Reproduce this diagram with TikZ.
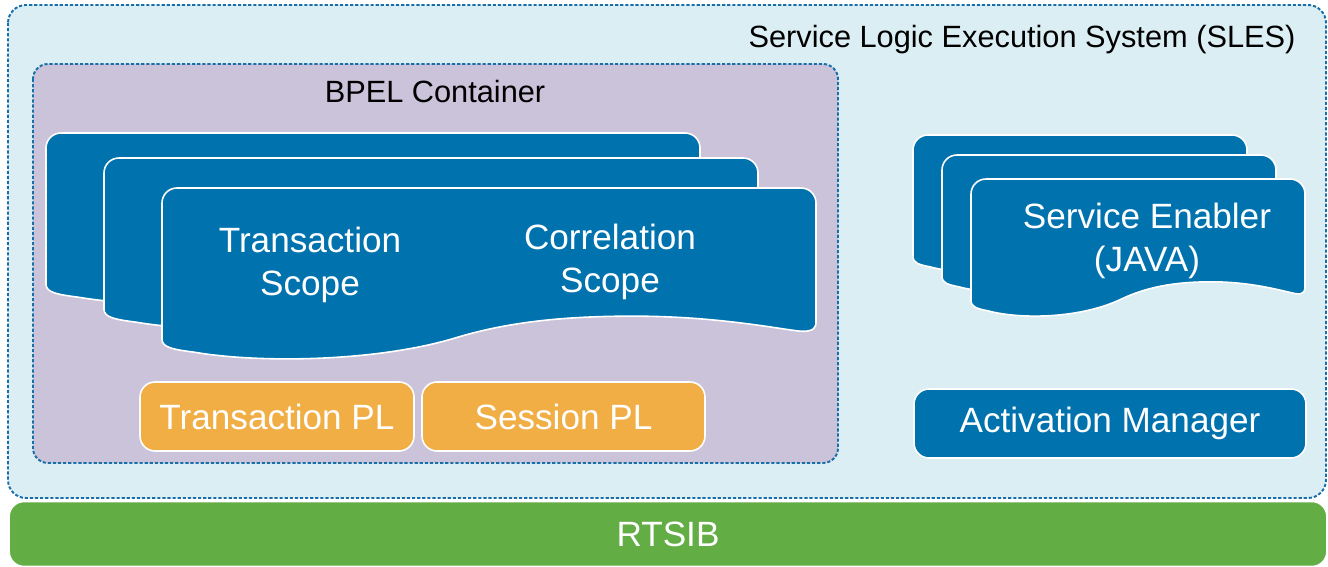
\documentclass[tikz,border=0pt]{standalone}
\usepackage{fontspec}
\setmainfont{Liberation Sans}
\definecolor{slesbg}{RGB}{219,238,244}
\definecolor{bpelbg}{RGB}{203,195,218}
\definecolor{docblue}{RGB}{0,114,174}
\definecolor{frameblue}{RGB}{24,110,168}
\definecolor{plorange}{RGB}{240,174,69}
\definecolor{busgreen}{RGB}{99,173,69}
\begin{document}
\begin{tikzpicture}[x=0.02cm,y=-0.02cm,
  sysframe/.style={draw=frameblue,line width=1.1pt,dash pattern=on 1.8pt off 1.1pt,rounded corners=0.36cm},
  docline/.style={draw=white,line width=0.9pt},
  box/.style={docline,rounded corners=0.3cm},
  bigtext/.style={text=white,align=center,font=\fontsize{20}{24.5}\selectfont},
  title/.style={font=\fontsize{17.5}{21}\selectfont},
  pics/docshape/.style 2 args={code={\path[docline,fill=docblue]
    (#1,15) .. controls (#1,6.7) and (#1-6.7,0) .. (#1-15,0) -- (15,0)
    .. controls (6.7,0) and (0,6.7) .. (0,15) -- (0,0.88*#2)
    .. controls (0,0.93*#2) and (0.02*#1,0.94*#2) .. (0.05*#1,0.955*#2)
    .. controls (0.15*#1,1.02*#2) and (0.33*#1,1.01*#2) .. (0.45*#1,0.87*#2)
    .. controls (0.52*#1,0.79*#2) and (0.6*#1,0.745*#2) .. (0.72*#1,0.745*#2)
    .. controls (0.84*#1,0.745*#2) and (0.93*#1,0.81*#2) .. (0.97*#1,0.83*#2)
    .. controls (#1,0.845*#2) and (#1,0.8*#2) .. (#1,0.78*#2) -- cycle;}}]
\useasboundingbox (0,0) rectangle (1328,567);
\draw[sysframe,fill=slesbg] (8,5) rectangle (1326,498);
\node[title] (sles) at (1022,40) {Service Logic Execution System (SLES)};
\draw[sysframe,fill=bpelbg,rounded corners=0.3cm] (33,64) rectangle (838,463);
\node[title] (bpel) at (435,92) {BPEL Container};
\foreach \dx/\dy in {0/0,58/25,116/55}
  \pic at (46+\dx,133+\dy) {docshape={654}{172}};
\node[bigtext] (txscope) at (310,265) {Transaction\\Scope};
\node[bigtext] (corrscope) at (610,262) {Correlation\\Scope};
\node[box,bigtext,fill=plorange,minimum width=5.48cm,minimum height=1.38cm] (txpl) at (277,416.5) {Transaction PL};
\node[box,bigtext,fill=plorange,minimum width=5.66cm,minimum height=1.38cm] (sesspl) at (563.5,416.5) {Session PL};
\foreach \dx/\dy in {0/0,29/20,58/44}
  \pic at (913+\dx,135+\dy) {docshape={334}{138}};
\node[bigtext] (enabler) at (1147,241) {Service Enabler\\(JAVA)};
\node[box,bigtext,fill=docblue,minimum width=7.84cm,minimum height=1.38cm] (actmgr) at (1110,423.5) {Activation Manager};
\node[box,bigtext,fill=busgreen,minimum width=26.36cm,minimum height=1.3cm] (rtsib) at (668,534) {RTSIB};
\end{tikzpicture}
\end{document}
